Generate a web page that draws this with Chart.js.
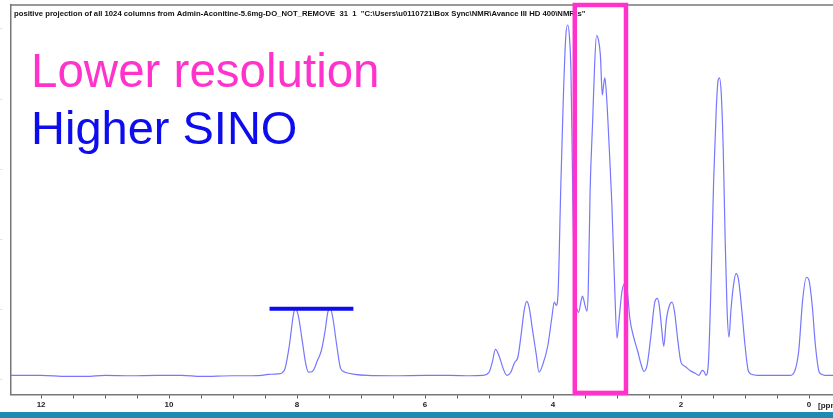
<!DOCTYPE html>
<html>
<head>
<meta charset="utf-8">
<script src="https://cdn.jsdelivr.net/npm/chart.js@4/dist/chart.umd.min.js"></script>
<style>
  html, body { margin: 0; padding: 0; background: #fff; }
  #wrap { width: 833px; height: 418px; position: relative; overflow: hidden; }
  #spectrum { display: block; }
  #band { position: absolute; left: 0; top: 411.5px; width: 833px; height: 7px; background: #1f8ab0; }
</style>
</head>
<body>
<div id="wrap">
  <canvas id="spectrum" width="833" height="412"></canvas>
  <div id="band"></div>
</div>
<script>
// 1H projection, chemical shift (ppm) and intensity
const ppm = [
  12.47, 12.0, 11.6, 11.3, 11.0, 10.6, 10.2, 9.8, 9.5, 9.0, 8.7, 8.55, 8.45, 8.3,
  8.2, 8.12, 8.06, 8.03, 7.98, 7.92, 7.86, 7.82, 7.76, 7.68, 7.62, 7.56, 7.52, 7.48, 7.44,
  7.38, 7.32, 7.25, 7.1, 6.9, 6.5, 6.0, 5.6, 5.3, 5.1,
  5.0, 4.95, 4.9, 4.84, 4.78, 4.72, 4.66, 4.6, 4.55, 4.5,
  4.45, 4.41, 4.37, 4.32, 4.26, 4.22, 4.16, 4.08, 4.02, 3.98,
  3.95, 3.92, 3.88, 3.84, 3.8, 3.77, 3.74, 3.72, 3.69, 3.66,
  3.62, 3.6, 3.56, 3.54, 3.5, 3.47, 3.45, 3.42, 3.38, 3.35,
  3.32, 3.29, 3.26, 3.23, 3.21, 3.19, 3.16, 3.12, 3.08, 3.04,
  3.0, 2.97, 2.92, 2.87, 2.84, 2.8, 2.74, 2.68, 2.62, 2.58,
  2.53, 2.47, 2.41, 2.37, 2.34, 2.3, 2.27, 2.23, 2.18, 2.14,
  2.1, 2.05, 2.0, 1.94, 1.86, 1.78, 1.72, 1.67, 1.64, 1.61,
  1.57, 1.53, 1.49, 1.45, 1.42, 1.4, 1.37, 1.34, 1.31, 1.28,
  1.25, 1.22, 1.18, 1.14, 1.1, 1.05, 1.0, 0.95, 0.9, 0.8,
  0.5, 0.3, 0.22, 0.16, 0.1, 0.04, 0.0, -0.05, -0.1, -0.16,
  -0.2, -0.25, -0.375
];
const intensity = [
  0, 0, -0.3, -0.3, 0, -0.1, 0, 0, -0.3, -0.1, -0.1, 0, 0.3, 0.4,
  1.4, 8.6, 17, 19.1, 17, 10, 2.9, 0.9, 1.1, 4.3, 7.1, 12.9, 18, 19.1, 16.3,
  8.6, 2, 0.9, 0.3, 0, -0.1, 0, 0, -0.1, 0,
  0.9, 3.7, 7.4, 5.4, 2, 0, 0.9, 3.7, 5.1, 11.4,
  18.6, 21.1, 19.1, 12.9, 5.7, 0.9, 3.1, 8.6, 16.3, 20.9,
  20, 24, 52.9, 78.6, 97, 100, 95.7, 87, 50, 24,
  18.6, 18, 21.4, 22.6, 20, 18.3, 24, 53, 73, 88.6,
  97, 95.7, 91.4, 80, 82.9, 84.9, 78.6, 64.3, 48.6, 27,
  10.6, 15.7, 24.3, 26.3, 24.3, 16.3, 10.9, 7.1, 2.9, 1.1,
  2.9, 11.4, 20.9, 22, 20, 12.9, 8.3, 15.7, 20, 20.9,
  18, 10, 3.7, 2.6, 1.4, 0.6, 0, 1.4, 1.1, 0,
  4.3, 27, 55.7, 75.7, 84.3, 84.9, 80, 64.3, 38.6, 18.6,
  10.9, 18.6, 25.7, 29.1, 27.1, 18.6, 8.6, 1.4, 0.3, 0,
  0, 0, 1.4, 7.1, 21.4, 28, 27.1, 20, 8.6, 0.9,
  0.3, 0, 0
];

// axis ticks
const xTickValues = [12, 11.5, 11, 10.5, 10, 9.5, 9, 8.5, 8, 7.5, 7, 6.5, 6, 5.5, 5, 4.5, 4, 3.5, 3, 2.5, 2, 1.5, 1, 0.5, 0];
const yTickValues = [-1, 19, 39, 59, 79, 99];

// markers
const boxRange = [3.66, 2.86];     // window around the 3.3 ppm multiplet
const barRange = [8.43, 7.12];     // bar over the aromatic pair
const barLevel = 19;

const titleText = String.raw`positive projection of all 1024 columns from Admin-Aconitine-5.6mg-DO_NOT_REMOVE  31  1  "C:\Users\u0110721\Box Sync\NMR\Avance III HD 400\NMRts"`;

const overlayPlugin = {
    id: 'overlay',
    afterDraw: (chart) => {
        const ctx = chart.ctx;
        const xs = chart.scales.x;
        const ys = chart.scales.y;
        const area = chart.chartArea;
        ctx.save();

        // top frame line
        ctx.strokeStyle = '#777';
        ctx.lineWidth = 1.5;
        ctx.beginPath();
        ctx.moveTo(area.left, area.top);
        ctx.lineTo(area.right, area.top);
        ctx.stroke();

        // data set title
        ctx.fillStyle = '#111';
        ctx.font = 'bold 7.7px "Liberation Sans"';
        ctx.textBaseline = 'alphabetic';
        ctx.fillText(titleText, area.left + 3, area.top + 11);

        // big captions
        ctx.font = '47.5px "Liberation Sans"';
        ctx.fillStyle = '#ff33cc';
        ctx.fillText('Lower resolution', 31, 87);
        ctx.font = '47px "Liberation Sans"';
        ctx.fillStyle = '#0c0cee';
        ctx.fillText('Higher SINO', 31, 144);

        // highlight box
        const bx0 = xs.getPixelForValue(boxRange[0]);
        const bx1 = xs.getPixelForValue(boxRange[1]);
        ctx.strokeStyle = '#ff33cc';
        ctx.lineWidth = 4.5;
        ctx.strokeRect(bx0, area.top, bx1 - bx0, area.bottom - 1.5 - area.top);

        // bar over the pair
        const lx0 = xs.getPixelForValue(barRange[0]);
        const lx1 = xs.getPixelForValue(barRange[1]);
        const ly = ys.getPixelForValue(barLevel);
        ctx.strokeStyle = '#0c0cee';
        ctx.lineWidth = 4;
        ctx.beginPath();
        ctx.moveTo(lx0, ly);
        ctx.lineTo(lx1, ly);
        ctx.stroke();

        // unit label
        ctx.fillStyle = '#222';
        ctx.font = 'bold 8px "Liberation Sans"';
        ctx.textBaseline = 'middle';
        ctx.fillText('[ppm]', xs.getPixelForValue(0) + 9, area.bottom + 11);
        ctx.restore();
    }
};

const ctx = document.getElementById('spectrum').getContext('2d');
const spectrumChart = new Chart(ctx, {
    type: 'line',
    data: {
        datasets: [{
            data: ppm.map((p, i) => ({ x: p, y: intensity[i] })),
            borderColor: '#7676ff',
            borderWidth: 1.2,
            pointRadius: 0,
            cubicInterpolationMode: 'monotone',
            fill: false
        }]
    },
    options: {
        responsive: false,
        animation: false,
        devicePixelRatio: 1,
        layout: { autoPadding: false, padding: { top: 5, left: 0, right: 0, bottom: 0 } },
        plugins: {
            legend: { display: false },
            tooltip: { enabled: false }
        },
        scales: {
            x: {
                type: 'linear',
                reverse: true,
                min: -0.375,
                max: 12.47,
                afterBuildTicks: (scale) => { scale.ticks = xTickValues.map(v => ({ value: v })); },
                ticks: {
                    autoSkip: false,
                    maxRotation: 0,
                    padding: 2,
                    color: '#222',
                    font: { family: 'Liberation Sans', size: 8, weight: 'bold' },
                    callback: (v) => (v % 2 === 0 ? String(v) : '')
                },
                grid: { drawOnChartArea: false, tickLength: 4, color: '#555', lineWidth: 1 },
                border: { color: '#777', width: 1.5 }
            },
            y: {
                min: -5.43,
                max: 105.71,
                afterBuildTicks: (scale) => { scale.ticks = yTickValues.map(v => ({ value: v })); },
                afterFit: (scale) => { scale.width = 11; },
                ticks: {
                    padding: 0,
                    crossAlign: 'far',
                    color: '#c4c4c4',
                    font: { family: 'Liberation Sans', size: 7 },
                    callback: () => '-'
                },
                grid: { drawOnChartArea: false, drawTicks: false },
                border: { color: '#777', width: 1.5 }
            }
        }
    },
    plugins: [overlayPlugin]
});
</script>
</body>
</html>
